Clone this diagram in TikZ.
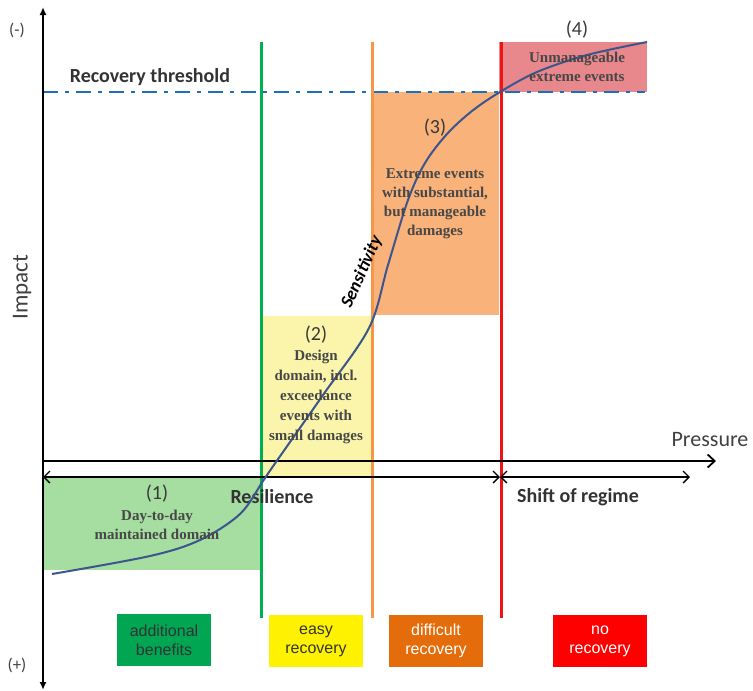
\documentclass[tikz,border=0pt]{standalone}
\usepackage{fontspec}
\setmainfont{Carlito}
\newfontfamily\domainfont{Liberation Serif}
\newfontfamily\keyfont{Liberation Sans}
\usetikzlibrary{arrows.meta}

\definecolor{domgreen}{RGB}{166,221,161}
\definecolor{domyellow}{RGB}{250,245,170}
\definecolor{domorange}{RGB}{248,178,122}
\definecolor{domred}{RGB}{232,135,140}
\definecolor{linegreen}{RGB}{0,176,80}
\definecolor{lineorange}{RGB}{247,150,70}
\definecolor{linered}{RGB}{238,20,20}
\definecolor{threshblue}{RGB}{30,110,190}
\definecolor{curveblue}{RGB}{60,85,140}
\definecolor{keygreen}{RGB}{0,166,81}
\definecolor{keyorange}{RGB}{228,108,10}

\begin{document}
\begin{tikzpicture}[x=1pt,y=1pt]
\tikzstyle{every node}+=[inner sep=0pt]
\tikzstyle{domaintext}=[font=\domainfont\fontsize{15}{19}\selectfont\bfseries, text=black!72, align=center]
\tikzstyle{numtext}=[font=\fontsize{20}{20}\selectfont, text=black!78]
\tikzstyle{boldlabel}=[font=\fontsize{20}{20}\selectfont\bfseries, text=black!80]
\tikzstyle{borderline}=[line width=3pt]
\tikzstyle{keybox}=[font=\keyfont\fontsize{16}{19}\selectfont, align=center, minimum width=94pt, minimum height=52pt]
\useasboundingbox (0,0) rectangle (753,-691);

% domains
\fill [domgreen] (43,-477) rectangle (261,-570);
\fill [domyellow] (261,-316) rectangle (372,-477);
\fill [domorange] (372,-92) rectangle (499,-315);
\fill [domred] (499,-42) rectangle (647,-92);

% recovery threshold
\coordinate (thleft) at (43,-92);
\coordinate (thright) at (645,-92);
\draw [threshblue, line width=2pt, dash pattern=on 15pt off 7pt on 4pt off 7pt] (thleft) -- (thright);
\draw (150,-77) node [boldlabel] (threshold) {Recovery threshold};

% borders between domains
\coordinate (gtop) at (261,-42);
\coordinate (gbot) at (261,-618);
\coordinate (otop) at (372,-42);
\coordinate (obot) at (372,-618);
\coordinate (rtop) at (501,-42);
\coordinate (rbot) at (501,-618);
\draw [borderline, linegreen] (gtop) -- (gbot);
\draw [borderline, lineorange] (otop) -- (obot);
\draw [borderline, linered] (rtop) -- (rbot);

% axes
\coordinate (imptop) at (43,-7);
\coordinate (impbot) at (43,-690);
\coordinate (pleft) at (43,-461);
\coordinate (pright) at (716,-461);
\draw [black, line width=1.8pt, {Latex[length=8pt,width=7pt]}-{Latex[length=8pt,width=7pt]}] (imptop) -- (impbot);
\draw [black, line width=1.8pt, -{Straight Barb[length=7pt,width=13pt]}] (pleft) -- (pright);
\draw (710,-440) node [font=\fontsize{22}{22}\selectfont, text=black!75] (pressure) {Pressure};
\draw (22,-287) node [font=\fontsize{23}{23}\selectfont, text=black!75, rotate=90] (impact) {Impact};
\draw (17,-30) node [font=\fontsize{17}{17}\selectfont, text=black!75] (minus) {(-)};
\draw (17,-665) node [font=\fontsize{17}{17}\selectfont, text=black!75] (plus) {(+)};

% resilience and shift of regime
\coordinate (resleft) at (43,-477);
\coordinate (resright) at (500,-477);
\coordinate (shiftright) at (690,-477);
\draw [black, line width=1.3pt, {Straight Barb[length=6pt,width=12pt]}-{Straight Barb[length=6pt,width=12pt]}] (resleft) -- (resright);
\draw [black, line width=1.3pt, {Straight Barb[length=6pt,width=12pt]}-{Straight Barb[length=6pt,width=12pt]}] (resright) -- (shiftright);
\draw (272,-497) node [boldlabel] (resilience) {Resilience};
\draw (578,-497) node [boldlabel] (shift) {Shift of regime};

% impact curve
\draw [curveblue, line width=2pt] plot [smooth, tension=0.55] coordinates {(52,-574) (150,-556) (200,-540) (240,-514) (263,-481) (276,-462) (323,-395) (369,-328) (388,-265) (408,-200) (425,-163) (447,-134) (472,-111) (500,-92) (537,-72) (587,-55) (647,-42)};
\draw (362,-272) node [font=\fontsize{18}{18}\selectfont\bfseries\itshape, rotate=66] (sensitivity) {Sensitivity};

% domain texts
\draw (157,-494) node [numtext] (num1) {(1)};
\draw (157,-525) node [domaintext] (dom1) {Day-to-day\\maintained domain};
\draw (316,-335) node [numtext] (num2) {(2)};
\draw (316,-397) node [domaintext, font=\domainfont\fontsize{15}{20}\selectfont\bfseries] (dom2) {Design\\domain, incl.\\exceedance\\events with\\small damages};
\draw (435,-128) node [numtext] (num3) {(3)};
\draw (435,-204) node [domaintext] (dom3) {Extreme events\\with substantial,\\but manageable\\damages};
\draw (577,-30) node [numtext] (num4) {(4)};
\draw (577,-67) node [domaintext] (dom4) {Unmanageable\\extreme events};

% key
\draw (164,-640) node [keybox, fill=keygreen, text=black!80] (benefits) {additional\\benefits};
\draw (316,-641) node [keybox, fill=yellow, text=black!80] (easy) {easy\\recovery};
\draw (436,-641) node [keybox, fill=keyorange, text=white] (difficult) {difficult\\recovery};
\draw (600,-641) node [keybox, fill=red, text=white] (norecovery) {no\\recovery};
\end{tikzpicture}
\end{document}
